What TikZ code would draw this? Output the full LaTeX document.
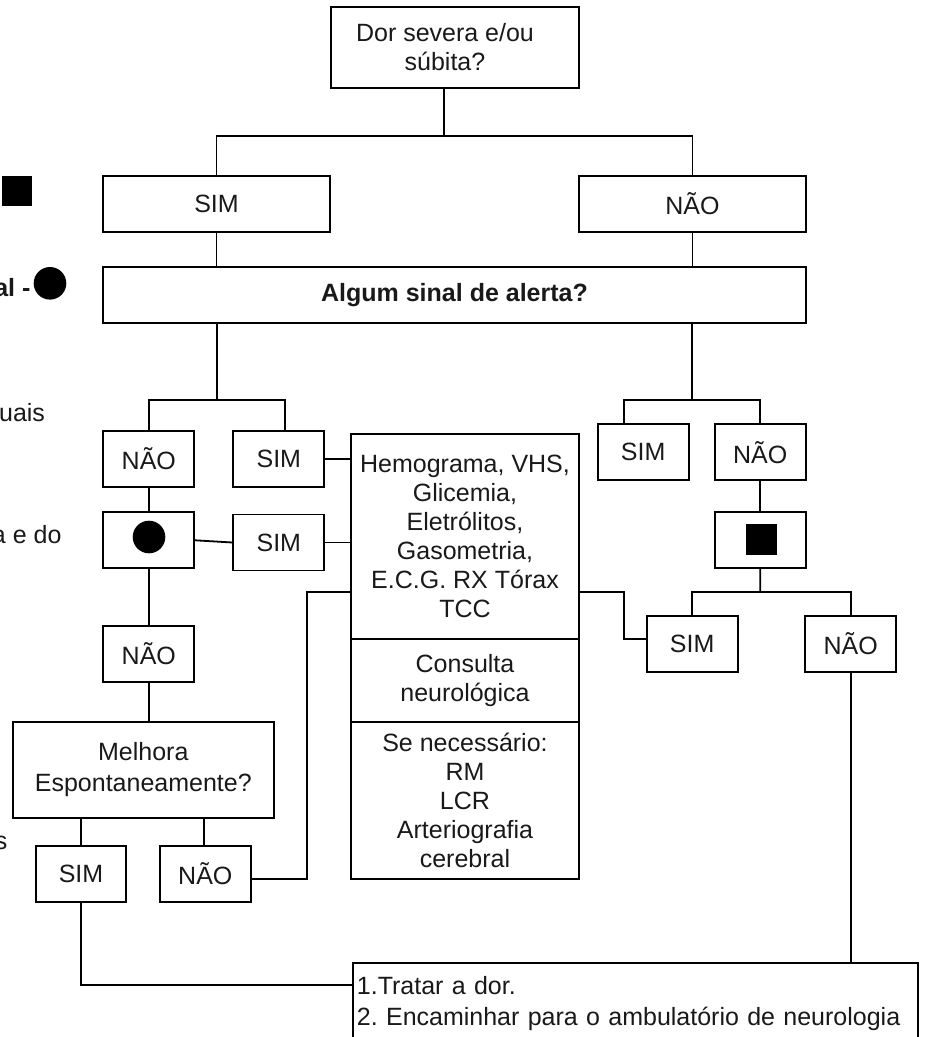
\documentclass[tikz,border=0pt]{standalone}
\usepackage{fontspec}
\setmainfont{Liberation Sans}
\frenchspacing
\begin{document}
\begin{tikzpicture}[x=1pt,y=-1pt,
  every node/.style={font=\fontsize{25}{29}\selectfont, text=black!90},
  box/.style={draw=black, line width=1.8pt, inner sep=0pt, align=center},
  small/.style={box, minimum width=91pt, minimum height=56pt},
  link/.style={draw=black, line width=1.8pt},
  solidmark/.style={fill=black, draw=none, inner sep=0pt}]
\useasboundingbox (0,0) rectangle (926,1037);
\clip (0,0) rectangle (926,1037);

% legend fragments on the left edge
\node[solidmark, minimum size=30pt] (lgsq) at (16.5,191) {};
\node[anchor=base east, font=\fontsize{25}{29}\selectfont\bfseries] (lgal) at (34,296.5) {al -};
\node[solidmark, circle, minimum size=32.6pt] (lgdot) at (50,283.3) {};
\node[anchor=base east] (lgsuais) at (48.5,421.5) {suais};
\node[anchor=base east] (lgaedo) at (65,543.3) {a e do};
\node[anchor=base east] (lgs) at (11,849) {s};

% top of the flow
\node[box, minimum width=248pt, minimum height=81pt] (top) at (455,47.5) {};
\node[align=center, inner sep=0pt] (toptext) at (445,47.5) {Dor severa e/ou\\súbita?};
\node[box, minimum width=227pt, minimum height=56pt] (sim1) at (216.5,204) {SIM};
\node[box, minimum width=227pt, minimum height=56pt] (nao1) at (692.5,204) {NÃO};
\node[box, minimum width=703pt, minimum height=56pt, font=\fontsize{25}{29}\selectfont\bfseries] (alert) at (454.5,295) {Algum sinal de alerta?};

% left branch
\node[small] (naoL) at (148.8,458.7) {NÃO};
\node[small] (simL) at (278.8,458.7) {SIM};
\node[small] (circbox) at (148.8,540.3) {};
\node[solidmark, circle, minimum size=32.6pt] (dot) at (149,537) {};
\node[small] (simL2) at (278.8,542.5) {SIM};
\node[small] (naoL3) at (148.8,653.7) {NÃO};
\node[box, minimum width=261.3pt, minimum height=96.6pt, font=\fontsize{25}{31}\selectfont] (melhora) at (143.3,770) {Melhora\\Espontaneamente?};
\node[small, minimum width=90.6pt] (simB) at (81,873.7) {SIM};
\node[small, minimum width=90.6pt] (naoB) at (205.3,873.7) {NÃO};

% central column of exams
\node[box, minimum width=228.6pt, minimum height=205pt] (exams) at (465,536.5)
  {Hemograma, VHS,\\Glicemia,\\Eletrólitos,\\Gasometria,\\E.C.G. RX Tórax\\TCC};
\node[box, minimum width=228.6pt, minimum height=83pt] (consulta) at (465,680.5) {Consulta\\neurológica};
\node[box, minimum width=228.6pt, minimum height=157pt] (senec) at (465,800.5)
  {Se necessário:\\RM\\LCR\\Arteriografia\\cerebral};

% right branch
\node[small] (simR) at (643.2,452.3) {SIM};
\node[small] (naoR) at (760.2,452.3) {NÃO};
\node[small] (sqbox) at (760.2,540.2) {};
\node[solidmark, minimum size=31pt] (sqmark) at (761.3,539.2) {};
\node[small] (simR2) at (692.2,643.7) {SIM};
\node[small] (naoR2) at (850.7,643.7) {NÃO};

% final instructions
\node[box, anchor=north west, minimum width=565pt, minimum height=81pt,
  align=left, text width=557pt, inner xsep=4pt, font=\fontsize{25}{31}\selectfont] (final) at (352,962)
  {1.Tratar a dor.\\2. Encaminhar para o ambulatório de neurologia};

% junction points
\coordinate (j1) at (444,136);
\coordinate (j2) at (216.7,400);
\coordinate (j3) at (692,400);
\coordinate (j4) at (760.3,591.7);
\coordinate (k1) at (307.3,591.7);
\coordinate (k2) at (624,591.7);
\coordinate (k3) at (81,985);

% connectors
\draw[link] ([xshift=-11pt]top.south) -- (j1);
\draw[link] (sim1.north) |- (j1) -| (nao1.north);
\draw[link] (sim1.south) -- (sim1.south |- alert.north);
\draw[link] (nao1.south) -- (nao1.south |- alert.north);

\draw[link] (alert.south -| j2) -- (j2);
\draw[link] (naoL.north) |- (j2) -| ([xshift=6.2pt]simL.north);
\draw[link] (alert.south -| j3) -- (j3);
\draw[link] ([xshift=-19.2pt]simR.north) |- (j3) -| (naoR.north);

\draw[link] (simL.east) -- (simL.east -| exams.west);
\draw[link] (naoL.south) -- (circbox.north);
\draw[link] (circbox.east) -- (simL2.west);
\draw[link] (simL2.east) -- (simL2.east -| exams.west);
\draw[link] (circbox.south) -- (naoL3.north);
\draw[link] (naoL3.south) -- (naoL3.south |- melhora.north);
\draw[link] (simB.north) -- (simB.north |- melhora.south);
\draw[link] ([xshift=-1.3pt]naoB.north) -- ([xshift=-1.3pt]naoB.north |- melhora.south);
\draw[link] ([yshift=-5.6pt]naoB.east) -| (k1) -- (k1 -| exams.west);

\draw[link] (k2 -| exams.east) -- (k2) |- ([yshift=4.4pt]simR2.west);
\draw[link] (naoR.south) -- (sqbox.north);
\draw[link] (sqbox.south) -- (j4);
\draw[link] (simR2.north) |- (j4) -| (naoR2.north);
\draw[link] (naoR2.south) -- (naoR2.south |- final.north);
\draw[link] (simB.south) -- (k3) -- (k3 -| final.west);
\end{tikzpicture}
\end{document}
